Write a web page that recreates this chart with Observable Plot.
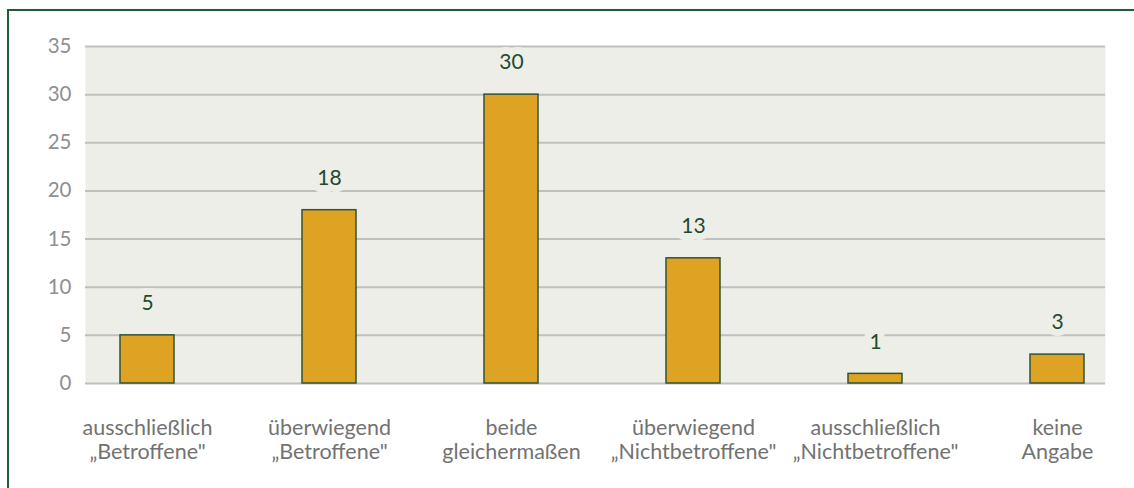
<!DOCTYPE html>
<html>
<head>
<meta charset="utf-8">
<script src="https://cdn.jsdelivr.net/npm/d3@7"></script>
<script src="https://cdn.jsdelivr.net/npm/@observablehq/plot@0.6"></script>
<style>
  html, body { margin: 0; padding: 0; background: #ffffff; overflow: hidden; }
  #wrap { position: relative; width: 1134px; height: 488px; overflow: hidden; }
  #border { position: absolute; left: 7px; top: 9px; width: 1200px; height: 600px; border-left: 2.5px solid #235a38; border-top: 2.5px solid #235a38; }
  #chart { position: absolute; left: 0; top: 0; }
  svg { font-family: Lato, "Open Sans", sans-serif; }
</style>
</head>
<body>
<div id="wrap"><div id="chart"></div><div id="border"></div></div>
<script>
const categories = [
  "ausschließlich\n„Betroffene\"",
  "überwiegend\n„Betroffene\"",
  "beide\ngleichermaßen",
  "überwiegend\n„Nichtbetroffene\"",
  "ausschließlich\n„Nichtbetroffene\"",
  "keine\nAngabe"
];
const values = [5, 18, 30, 13, 1, 3];
const yTicks = [0, 5, 10, 15, 20, 25, 30, 35];

const data = categories.map((c, i) => ({category: c, value: values[i]}));
const bg = "#eeeee9";

const chart = Plot.plot({
  width: 1134,
  height: 488,
  marginLeft: 85,
  marginRight: 29,
  marginTop: 46,
  marginBottom: 105,
  style: {background: "transparent", fontFamily: "Lato, 'Open Sans', sans-serif"},
  x: {type: "band", domain: categories, range: [-10.6, 1213.5], padding: 0.704, label: null},
  y: {domain: [0, 35], label: null},
  marks: [
    Plot.frame({fill: bg, stroke: null}),
    Plot.ruleY(yTicks, {stroke: "#bfbfbf", strokeWidth: 2}),
    Plot.axisY({ticks: yTicks, tickSize: 0, tickPadding: 14, label: null, fontSize: 20.5, fill: "#8f8f8f"}),
    Plot.axisX({tickSize: 0, tickPadding: 34, label: null, fontSize: 21.5, fill: "#727272", lineHeight: 1.13}),
    Plot.barY(data, {x: "category", y: "value", fill: "#dea322", stroke: "#2f5535", strokeWidth: 1.5}),
    Plot.text(data, {x: "category", y: "value", text: d => String(d.value), dy: -32, fontSize: 21, fill: "#1f4a2c", stroke: bg, strokeWidth: 14, strokeLinejoin: "round"})
  ]
});
document.getElementById("chart").appendChild(chart);
</script>
</body>
</html>
